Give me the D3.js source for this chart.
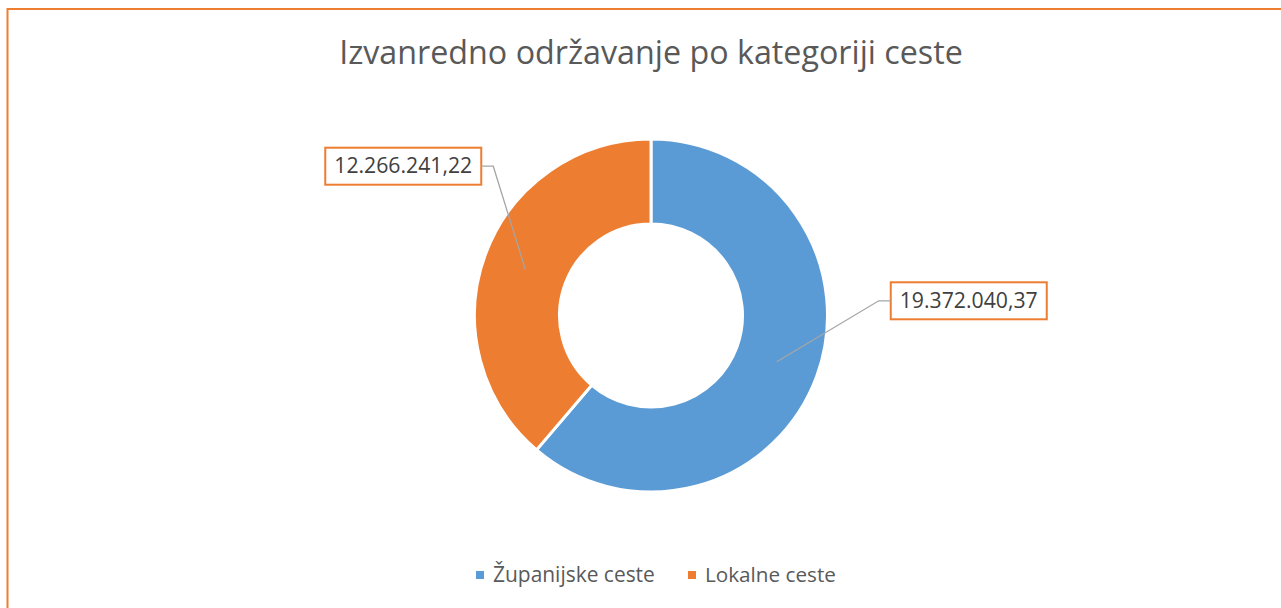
<!DOCTYPE html>
<html>
<head>
<meta charset="utf-8">
<script src="https://cdn.jsdelivr.net/npm/d3@7"></script>
<style>
  body { margin: 0; background: #fff; }
  text { font-family: "Open Sans", "Noto Sans", sans-serif; }
</style>
</head>
<body>
<div id="chart"></div>
<script>
// chart data
const categories = ["Županijske ceste", "Lokalne ceste"];
const values = [19372040.37, 12266241.22];
const labels = ["19.372.040,37", "12.266.241,22"];
const colors = ["#5b9bd5", "#ed7d31"];
const title = "Izvanredno održavanje po kategoriji ceste";

const width = 1281;
const height = 608;

const svg = d3.select("#chart")
    .append("svg")
    .attr("width", width)
    .attr("height", height);

// outer frame, runs off the right and bottom edge
svg.append("rect")
    .attr("x", 7.5)
    .attr("y", 9)
    .attr("width", width + 20)
    .attr("height", height + 20)
    .attr("fill", "none")
    .attr("stroke", "#ed7d31")
    .attr("stroke-width", 2);

// shrink/grow a text so it fills the wanted width
function fitText(sel, base, target) {
    const w = sel.node().getComputedTextLength();
    sel.style("font-size", (base * target / w) + "px");
}

const titleText = svg.append("text")
    .attr("x", 651)
    .attr("y", 64)
    .attr("text-anchor", "middle")
    .attr("fill", "#595959")
    .style("font-size", "30px")
    .text(title);
fitText(titleText, 30, 624);

const cx = 651, cy = 315.5;
const outerR = 176.5, innerR = 91.5;

const pie = d3.pie().sort(null).value(function(d) { return d; });
const arcs = pie(values);

const arc = d3.arc().innerRadius(innerR).outerRadius(outerR);
const midArc = d3.arc().innerRadius((innerR + outerR) / 2).outerRadius((innerR + outerR) / 2);

const g = svg.append("g").attr("transform", `translate(${cx},${cy})`);

g.selectAll("path")
    .data(arcs)
    .enter()
    .append("path")
        .attr("d", arc)
        .attr("fill", function(d, i) { return colors[i]; })
        .attr("stroke", "#fff")
        .attr("stroke-width", 3);

// data labels with leader lines
const labelOffset = [
    { dx: 114, dy: -61, side: "right" },
    { dx: -44, dy: -103, side: "left" }
];

arcs.forEach(function(d, i) {
    const c = midArc.centroid(d);
    const px = cx + c[0], py = cy + c[1];
    const off = labelOffset[i];
    const bendX = px + off.dx + (off.side === "right" ? -12 : 12);
    const boxX = px + off.dx;
    const boxY = py + off.dy;

    svg.append("polyline")
        .attr("points", [[px, py], [bendX, boxY], [boxX, boxY]].map(function(p) { return p.join(","); }).join(" "))
        .attr("fill", "none")
        .attr("stroke", "#a5a5a5")
        .attr("stroke-width", 1.3);

    const t = svg.append("text")
        .attr("y", boxY + 7)
        .attr("fill", "#404040")
        .style("font-size", "19px")
        .text(labels[i]);
    fitText(t, 19, 138);
    const bw = 156;
    const left = off.side === "right" ? boxX : boxX - bw;
    t.attr("x", left + 9);

    svg.insert("rect", "text")
        .attr("x", left)
        .attr("y", boxY - 18.5)
        .attr("width", bw)
        .attr("height", 37)
        .attr("fill", "#fff")
        .attr("stroke", "#ed7d31")
        .attr("stroke-width", 2);
});

// legend
const legendX = [476, 688];
const legendW = [162, 131];
const legend = svg.selectAll(".legend")
    .data(categories)
    .enter()
    .append("g")
        .attr("class", "legend")
        .attr("transform", function(d, i) { return `translate(${legendX[i]},571)`; });

legend.append("rect")
    .attr("width", 8)
    .attr("height", 8)
    .attr("fill", function(d, i) { return colors[i]; });

legend.append("text")
    .attr("x", 17)
    .attr("y", 11)
    .attr("fill", "#595959")
    .style("font-size", "19px")
    .text(function(d) { return d; })
    .each(function(d, i) { fitText(d3.select(this), 19, legendW[i]); });
</script>
</body>
</html>
